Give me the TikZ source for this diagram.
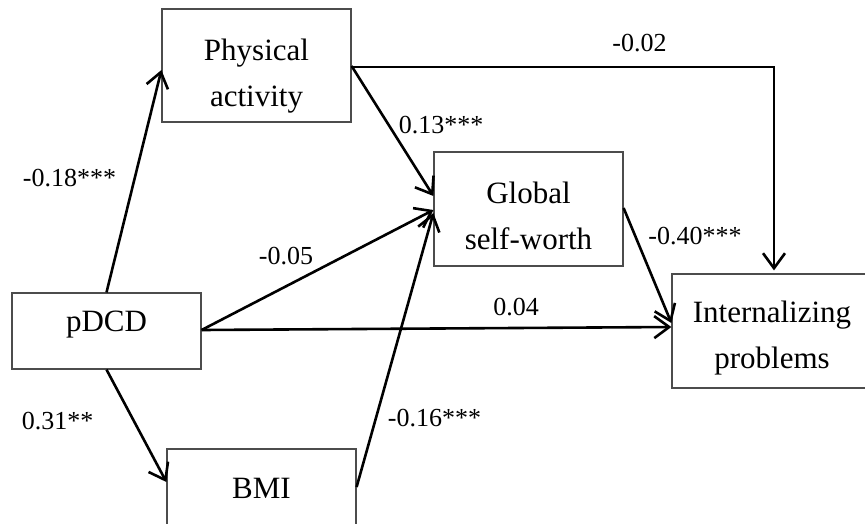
\documentclass[tikz,border=0pt]{standalone}
\usepackage{fontspec}
\setmainfont{Liberation Serif}
\usetikzlibrary{arrows.meta,calc}
\begin{document}
\begin{tikzpicture}[x=1pt,y=-1pt,
  box/.style={draw=black!70, line width=1.2pt, minimum width=189pt, inner sep=0pt},
  boxtext/.style={align=center, inner sep=0pt, font=\fontsize{31}{46}\selectfont},
  conn/.style={line width=2.6pt, -{Straight Barb[length=15pt,width=22pt]}},
  lab/.style={inner sep=0pt, font=\fontsize{26}{30}\selectfont}]
\useasboundingbox (0,0) rectangle (865,523);
\clip (0,0) rectangle (865,523);
% boxes
\node[box, minimum height=113pt] (pa) at (256.5,65.5) {};
\node[boxtext] (patext) at (256.5,75.7) {Physical\\activity};
\node[box, minimum height=76pt] (pdcd) at (106.5,331) {};
\node[boxtext, anchor=base] (pdcdtext) at (106.5,331.7) {pDCD};
\node[box, minimum height=114pt] (gsw) at (528.5,209) {};
\node[boxtext] (gswtext) at (528.5,215.4) {Global\\self-worth};
\node[box, minimum width=200pt, minimum height=114pt] (ip) at (772,331) {};
\node[boxtext] (iptext) at (772,337.7) {Internalizing\\problems};
\node[box, minimum height=78pt] (bmi) at (261.5,488) {};
\node[boxtext, anchor=base] (bmitext) at (261.5,498) {BMI};
% connectors
\draw[conn] (pdcd.north) -- ($(pa.west)+(0,4.5)$);
\draw[conn] (pdcd.south) -- ($(bmi.west)+(0,-6)$);
\draw[conn] ($(pdcd.east)+(0,-1)$) -- ($(gsw.west)+(0,1)$);
\draw[conn] ($(pdcd.east)+(0,-1)$) -- ($(ip.west)+(0,-4)$);
\draw[conn] ($(pa.east)+(0,0.5)$) -- ($(gsw.west)+(0,-13)$);
\draw[conn] ($(bmi.east)+(0,-1)$) -- ($(gsw.west)+(0,4)$);
\draw[conn] ($(pa.east)+(0,1.5)$) -| ($(ip.north)+(2,-3)$);
\draw[conn] ($(gsw.east)+(0,-1)$) -- ($(ip.west)+(0,-8)$);
% labels
\node[lab] (l1) at (639.5,43.5) {-0.02};
\node[lab] (l2) at (441,125) {0.13***};
\node[lab] (l3) at (69.5,178.5) {-0.18***};
\node[lab] (l4) at (286,256) {-0.05};
\node[lab] (l5) at (516,307) {0.04};
\node[lab] (l6) at (695,236) {-0.40***};
\node[lab] (l7) at (57.5,421.5) {0.31**};
\node[lab] (l8) at (434.5,418.5) {-0.16***};
\end{tikzpicture}
\end{document}
